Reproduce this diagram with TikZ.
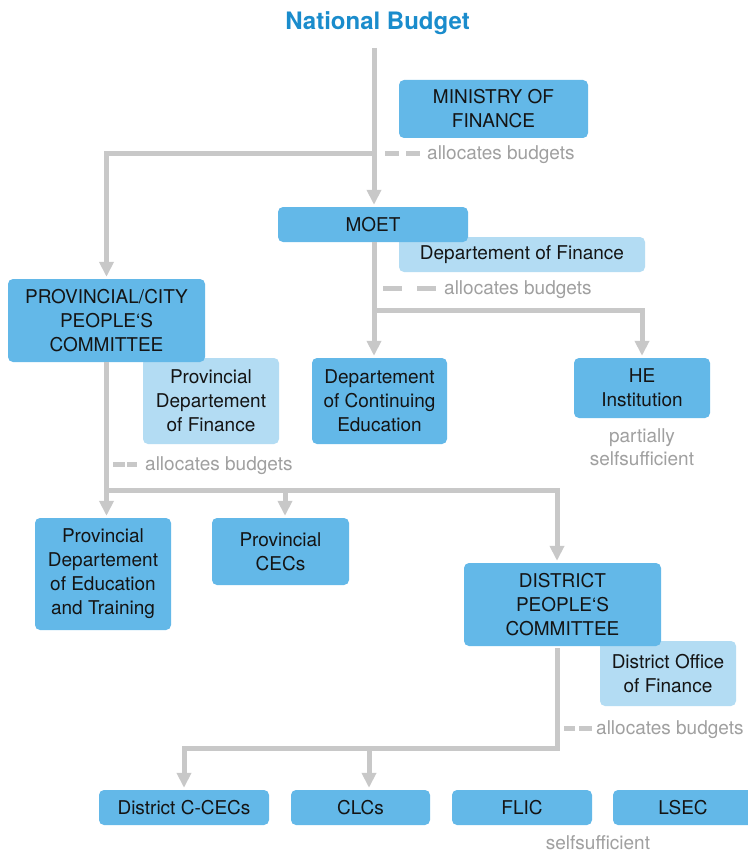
\documentclass[tikz,border=0pt]{standalone}
\usepackage{fontspec}
\setmainfont{TeX Gyre Heros}
\usetikzlibrary{arrows.meta}
\definecolor{boxblue}{RGB}{99,184,232}
\definecolor{lightblue}{RGB}{179,220,243}
\definecolor{linegray}{RGB}{200,200,200}
\definecolor{textgray}{RGB}{160,160,160}
\definecolor{titleblue}{RGB}{26,140,204}
\definecolor{boxtext}{RGB}{20,20,20}
\begin{document}
\begin{tikzpicture}[x=1pt,y=-1pt,
  box/.style={fill=boxblue, rounded corners=5pt, text=boxtext, align=center, inner sep=0pt, font=\fontsize{19}{24}\selectfont},
  lbox/.style={box, fill=lightblue},
  conn/.style={draw=linegray, line width=5pt},
  arr/.style={conn, -{Triangle[width=14pt,length=15pt]}, shorten >=2pt},
  note/.style={text=textgray, font=\fontsize{19}{24}\selectfont, inner sep=0pt},
  dashmark/.style={draw=linegray, line width=5pt}]
\fill[white] (0,0) rectangle (747,853);
\useasboundingbox (0,0) rectangle (747,853);

% title
\node[text=titleblue, font=\fontsize{24}{28}\selectfont\bfseries, anchor=base, inner sep=0pt] (nb) at (377.5,30) {National Budget};

% light boxes (behind)
\node[lbox, minimum width=246pt, minimum height=35pt] (dof) at (522,254.5) {Departement of Finance};
\node[lbox, minimum width=136pt, minimum height=86pt] (pdf) at (211,401) {Provincial\\Departement\\of Finance};
\node[lbox, minimum width=136pt, minimum height=65pt] (dofd) at (668,673.5) {District Office\\of Finance};

% main boxes
\node[box, minimum width=189pt, minimum height=58pt] (mof) at (493.5,109) {MINISTRY OF\\FINANCE};
\node[box, minimum width=190pt, minimum height=35pt] (moet) at (373,224.5) {MOET};
\node[box, minimum width=197pt, minimum height=83pt] (prov) at (106.5,320.5) {PROVINCIAL/CITY\\PEOPLE‘S\\COMMITTEE};
\node[box, minimum width=135pt, minimum height=86pt] (dce) at (379.5,401) {Departement\\of Continuing\\Education};
\node[box, minimum width=136pt, minimum height=60pt] (he) at (642,388) {HE\\Institution};
\node[box, minimum width=136pt, minimum height=112pt] (pdet) at (103,574) {Provincial\\Departement\\of Education\\and Training};
\node[box, minimum width=137pt, minimum height=67pt] (pcec) at (280.5,551.5) {Provincial\\CECs};
\node[box, minimum width=197pt, minimum height=83pt] (dpc) at (562.5,604.5) {DISTRICT\\PEOPLE‘S\\COMMITTEE};
\node[box, minimum width=170pt, minimum height=35pt] (dccec) at (184,807.5) {District C-CECs};
\node[box, minimum width=139pt, minimum height=35pt] (clc) at (360.5,807.5) {CLCs};
\node[box, minimum width=140pt, minimum height=35pt] (flic) at (522,807.5) {FLIC};
\node[box, minimum width=140pt, minimum height=35pt] (lsec) at (683,807.5) {LSEC};

% connectors
\coordinate (top) at (374,48);
\coordinate (j1) at (374,154);
\coordinate (h2) at (0,310);
\coordinate (h3) at (0,490);
\coordinate (dtop) at (557,648);
\coordinate (pc) at (285,490);
\coordinate (h4) at (0,748);
\coordinate (cl) at (369,748);

\draw[arr] (top) -- (top |- moet.north);
\draw[arr] (j1) -| (prov.north);
\draw[arr] (top |- moet.south) -- (top |- dce.north);
\draw[arr] (top |- h2) -| (he.north);
\draw[arr] (prov.south) -- (prov.south |- pdet.north);
\draw[arr] (prov.south |- h3) -| (dtop |- dpc.north);
\draw[arr] (pc) -- (pc |- pcec.north);
\draw[arr] (dtop) |- (h4 -| dccec.north) -- (dccec.north);
\draw[arr] (cl) -- (cl |- clc.north);

% allocates budgets notes
\draw[dashmark] (385,154) -- (399,154) (406,154) -- (420,154);
\node[note, anchor=base west] (n1) at (427,160) {allocates budgets};
\draw[dashmark] (383,288) -- (402,288) (417,288) -- (436,288);
\node[note, anchor=base west] (n2) at (444,294) {allocates budgets};
\draw[dashmark] (113,464) -- (125,464) (127,464) -- (137,464);
\node[note, anchor=base west] (n3) at (145,470) {allocates budgets};
\draw[dashmark] (564,728) -- (575,728) (579,728) -- (592,728);
\node[note, anchor=base west] (n4) at (596,734) {allocates budgets};

% other notes
\node[note, anchor=base] (p1) at (642,442) {partially};
\node[note, anchor=base] (p2) at (642,465) {selfsufficient};
\node[note, anchor=base] (s1) at (598,849) {selfsufficient};
\end{tikzpicture}
\end{document}
